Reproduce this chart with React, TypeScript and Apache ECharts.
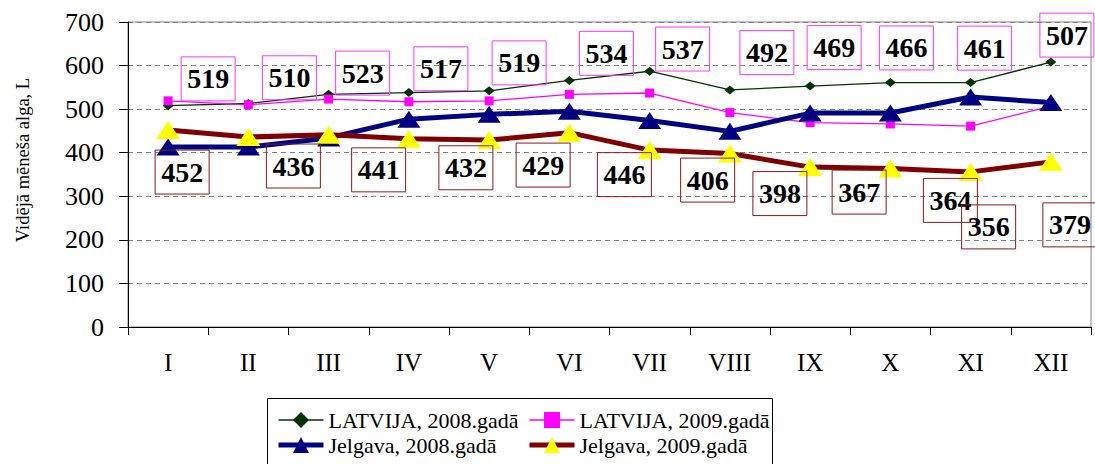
import React, { useEffect, useRef } from 'react';
import * as echarts from 'echarts';

const months = ['I', 'II', 'III', 'IV', 'V', 'VI', 'VII', 'VIII', 'IX', 'X', 'XI', 'XII'];
const latvija2008 = [508, 513, 534, 538, 542, 566, 587, 544, 553, 561, 561, 608];
const latvija2009 = [519, 510, 523, 517, 519, 534, 537, 492, 469, 466, 461, 507];
const jelgava2008 = [413, 413, 434, 477, 488, 495, 474, 449, 491, 491, 528, 515];
const jelgava2009 = [452, 436, 441, 432, 429, 446, 406, 398, 367, 364, 356, 379];
const seriesNames = ['LATVIJA, 2008.gadā', 'LATVIJA, 2009.gadā', 'Jelgava, 2008.gadā', 'Jelgava, 2009.gadā'];
const yMin = 0;
const yMax = 700;
const yStep = 100;
const yTitle = 'Vidējā mēneša alga, L';

// label box offsets (style, not data)
const latvija2009LabelOffsets = [[40, -22], [41, -27], [34, -26], [32, -33], [30, -38], [37, -41], [33, -44], [37, -60], [24, -75], [16, -76], [14, -78], [16, -71]];
const jelgava2009LabelOffsets = [[14, 42], [45, 29], [50, 35], [57, 29], [54, 25], [55, 42], [58, 30], [50, 40], [49, 25], [60, 32], [18, 55], [19, 63]];

const FONT = 'Liberation Serif';

export default function App() {
  const ref = useRef<HTMLDivElement>(null);
  useEffect(() => {
    if (!ref.current) return;
    const chart = echarts.init(ref.current, null, { renderer: 'svg' });
    const labelBase = {
      show: true,
      position: 'inside',
      fontFamily: FONT,
      fontWeight: 'bold',
      fontSize: 28,
      lineHeight: 28,
      color: '#000',
      borderWidth: 1,
      padding: [8, 6],
      formatter: '{c}',
    };
    const legendBase = {
      orient: 'vertical',
      top: 409,
      padding: 0,
      itemWidth: 45,
      itemHeight: 20,
      itemGap: 3,
      lineStyle: { width: 'inherit' },
      textStyle: { fontFamily: FONT, fontSize: 22, lineHeight: 20, color: '#000' },
    };
    const option: any = {
      animation: false,
      backgroundColor: '#fff',
      textStyle: { fontFamily: FONT },
      grid: {
        left: 128,
        right: 4,
        top: 22,
        bottom: 137,
        show: true,
        borderColor: '#808080',
        borderWidth: 1,
        containLabel: false,
        outerBoundsMode: 'none',
      },
      legend: [
        { ...legendBase, data: [seriesNames[0], seriesNames[2]], left: 276 },
        { ...legendBase, data: [seriesNames[1], seriesNames[3]], left: 527 },
      ],
      graphic: [
        {
          type: 'rect',
          shape: { x: 267.5, y: 398.5, width: 505, height: 80 },
          style: { fill: 'none', stroke: '#000', lineWidth: 1 },
          silent: true,
        },
        {
          type: 'text',
          x: 23,
          y: 160,
          rotation: Math.PI / 2,
          style: {
            text: yTitle,
            fontFamily: FONT,
            fontSize: 18.5,
            fill: '#000',
            align: 'center',
            verticalAlign: 'middle',
          },
        },
      ],
      xAxis: {
        type: 'category',
        data: months,
        boundaryGap: true,
        axisLine: { show: true, lineStyle: { color: '#000', width: 1 } },
        axisTick: { show: true, length: 8, lineStyle: { color: '#000' } },
        axisLabel: { fontFamily: FONT, fontSize: 25, color: '#000', margin: 23 },
        splitLine: { show: false },
      },
      yAxis: {
        type: 'value',
        min: yMin,
        max: yMax,
        interval: yStep,
        axisLine: { show: true, lineStyle: { color: '#000', width: 1 } },
        axisTick: { show: true, length: 9, lineStyle: { color: '#000' } },
        axisLabel: { fontFamily: FONT, fontSize: 26, color: '#000', margin: 24 },
        splitLine: { show: true, lineStyle: { color: '#808080', width: 1, type: [5, 4] } },
      },
      series: [
        {
          name: seriesNames[0],
          type: 'line',
          data: latvija2008,
          symbol: 'diamond',
          symbolSize: [11, 9],
          lineStyle: { color: '#003300', width: 1.3 },
          itemStyle: { color: '#003300' },
          z: 2,
        },
        {
          name: seriesNames[1],
          type: 'line',
          data: latvija2009.map((v, i) => ({ value: v, label: { offset: latvija2009LabelOffsets[i] } })),
          symbol: 'rect',
          symbolSize: 9,
          lineStyle: { color: '#ff00ff', width: 1.3 },
          itemStyle: { color: '#ff00ff' },
          label: { ...labelBase, borderColor: '#ff33ff' },
          z: 3,
        },
        {
          name: seriesNames[2],
          type: 'line',
          data: jelgava2008,
          symbol: 'triangle',
          symbolSize: [23, 17],
          lineStyle: { color: '#000080', width: 5 },
          itemStyle: { color: '#000080' },
          z: 4,
        },
        {
          name: seriesNames[3],
          type: 'line',
          data: jelgava2009.map((v, i) => ({ value: v, label: { offset: jelgava2009LabelOffsets[i] } })),
          symbol: 'triangle',
          symbolSize: [24, 18],
          lineStyle: { color: '#800000', width: 5 },
          itemStyle: { color: '#ffff00' },
          label: { ...labelBase, borderColor: '#8b1a1a' },
          z: 5,
        },
      ],
    };
    chart.setOption(option);
    return () => chart.dispose();
  }, []);
  return (
    <div
      ref={ref}
      style={{ position: 'fixed', left: 0, top: 0, width: 1095, height: 464, background: '#fff' }}
    />
  );
}
